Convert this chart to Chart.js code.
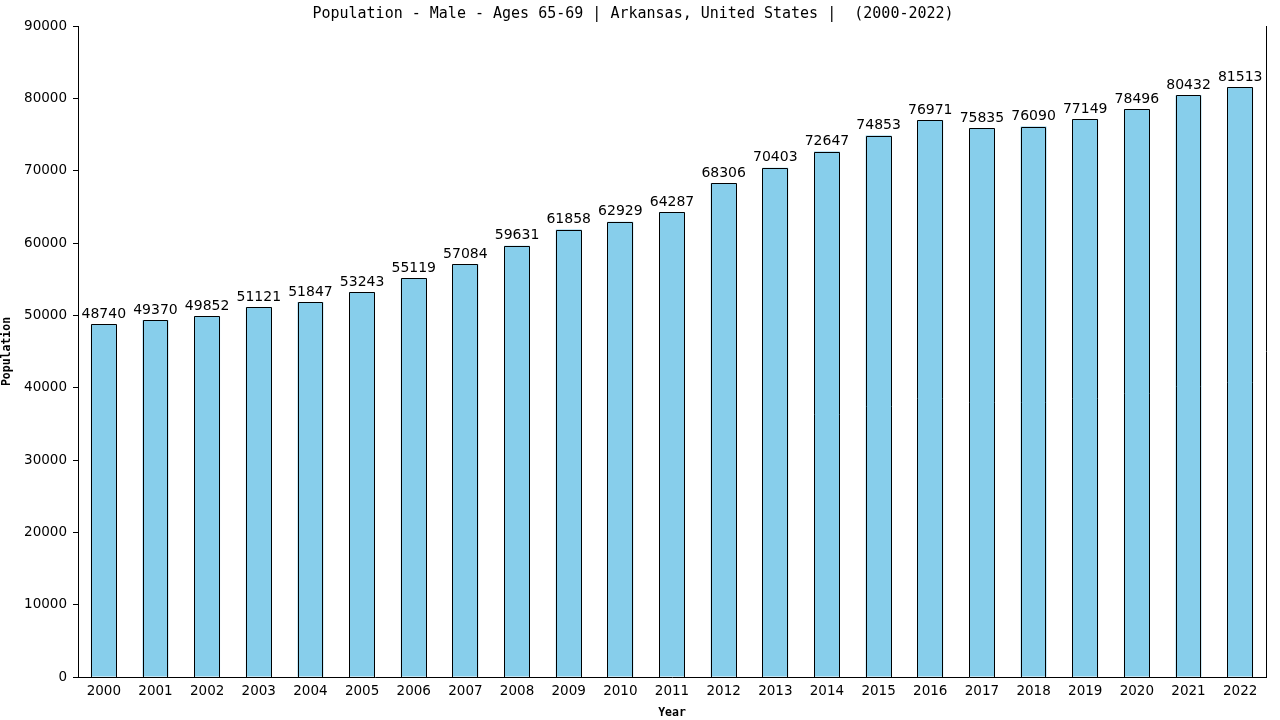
<!DOCTYPE html>
<html>
<head>
<meta charset="utf-8">
<script src="https://cdn.jsdelivr.net/npm/chart.js@4/dist/chart.umd.min.js"></script>
<style>
  html, body { margin: 0; padding: 0; background: #fff; }
  #wrap { width: 1280px; height: 720px; }
</style>
</head>
<body>
<div id="wrap"><canvas id="myChart" width="1280" height="720"></canvas></div>
<script>
// data
const years = ['2000', '2001', '2002', '2003', '2004', '2005', '2006', '2007', '2008', '2009', '2010', '2011',
    '2012', '2013', '2014', '2015', '2016', '2017', '2018', '2019', '2020', '2021', '2022'];
const population = [48740, 49370, 49852, 51121, 51847, 53243, 55119, 57084, 59631, 61858, 62929, 64287,
    68306, 70403, 72647, 74853, 76971, 75835, 76090, 77149, 78496, 80432, 81513];
const yTicks = [0, 10000, 20000, 30000, 40000, 50000, 60000, 70000, 80000, 90000];

//crisp bar outlines, labels above bars, right frame line
const extras = {
    id: 'extras',
    afterDatasetsDraw(chart) {
        const c = chart.ctx;
        const meta = chart.getDatasetMeta(0);
        const a = chart.chartArea;
        c.save();
        c.strokeStyle = '#000';
        c.lineWidth = 1;
        meta.data.forEach((bar) => {
            const l = Math.round(bar.x - bar.width / 2) + 0.5;
            const r = Math.round(bar.x + bar.width / 2) - 0.5;
            const t = Math.round(bar.y) + 0.5;
            const b = Math.round(bar.base);
            c.beginPath();
            c.moveTo(l, b);
            c.lineTo(l, t);
            c.lineTo(r, t);
            c.lineTo(r, b);
            c.stroke();
        });
        c.font = '14px "DejaVu Sans"';
        c.fillStyle = '#000';
        c.textAlign = 'center';
        c.textBaseline = 'bottom';
        meta.data.forEach((bar, i) => {
            c.fillText(population[i], bar.x, bar.y - 3);
        });
        c.beginPath();
        c.moveTo(Math.round(a.right) + 0.5, a.top);
        c.lineTo(Math.round(a.right) + 0.5, a.bottom);
        c.stroke();
        c.restore();
    }
};

const ctx = document.getElementById('myChart').getContext('2d');
const myChart = new Chart(ctx, {
    type: 'bar',
    data: {
        labels: years,
        datasets: [{
            label: 'Population',
            data: population,
            backgroundColor: '#87CEEB',
            borderWidth: 0,
            barPercentage: 0.5,
            categoryPercentage: 1.0
        }]
    },
    options: {
        responsive: false,
        animation: false,
        layout: { padding: { left: 0, right: 14, top: 0, bottom: 0 } },
        plugins: {
            legend: { display: false },
            tooltip: { enabled: false },
            title: {
                display: true,
                text: 'Population - Male - Ages 65-69 | Arkansas, United States |  (2000-2022)',
                color: '#000',
                font: { family: '"DejaVu Sans Mono"', size: 15, weight: 'normal' },
                padding: { top: 5, bottom: 3 }
            }
        },
        scales: {
            x: {
                grid: { display: false, drawTicks: false },
                border: { display: true, color: '#000', width: 1 },
                ticks: { color: '#000', padding: 6, maxRotation: 0, font: { family: '"DejaVu Sans"', size: 13.5 } },
                title: {
                    display: true, text: 'Year', color: '#000', padding: { top: 2, bottom: 0 },
                    font: { family: '"DejaVu Sans Mono"', size: 11.5, weight: 'bold' }
                },
                afterFit(scale) { scale.height = 43; }
            },
            y: {
                min: 0,
                max: 90000,
                afterBuildTicks(scale) { scale.ticks = yTicks.map(v => ({ value: v })); },
                grid: { drawOnChartArea: false, drawTicks: true, tickLength: 5, color: '#000' },
                border: { display: true, color: '#000', width: 1 },
                ticks: {
                    color: '#000', padding: 6, font: { family: '"DejaVu Sans"', size: 13.5 },
                    callback: (v) => String(v)
                },
                title: {
                    display: true, text: 'Population', color: '#000', padding: { top: 0, bottom: 0 },
                    font: { family: '"DejaVu Sans Mono"', size: 11.5, weight: 'bold' }
                },
                afterFit(scale) { scale.width = 78; }
            }
        }
    },
    plugins: [extras]
});
</script>
</body>
</html>
